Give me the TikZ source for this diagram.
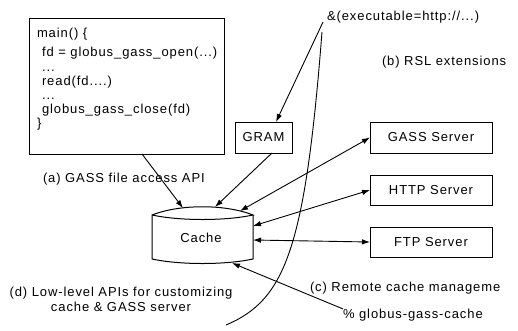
\documentclass[tikz,border=0pt]{standalone}
\usepackage{fontspec}
\setmainfont{Liberation Sans}[LetterSpace=7]
\usetikzlibrary{arrows.meta}
\begin{document}
\begin{tikzpicture}[x=1pt,y=-1pt,
  every node/.style={font=\fontsize{13pt}{15pt}\selectfont, inner sep=0pt, outer sep=0pt},
  box/.style={draw, line width=1pt},
  conn/.style={line width=0.9pt},
  arrowhd/.tip={Latex[length=8pt,width=5.5pt]}]
\useasboundingbox (0,0) rectangle (518,330);
\fill[white] (0,0) rectangle (518,330);

% code box
\node[box, anchor=north west, minimum width=195pt, minimum height=136pt] (code) at (29,18) {};
\node[anchor=base west] (l1) at (37,37) {main() \{};
\node[anchor=base west] (l2) at (42,56) {fd = globus\_gass\_open(...)};
\node[anchor=base west] (l3) at (42,71) {...};
\node[anchor=base west] (l4) at (42,85) {read(fd....)};
\node[anchor=base west] (l5) at (42,99) {...};
\node[anchor=base west] (l6) at (42,113) {globus\_gass\_close(fd)};
\node[anchor=base west] (l7) at (37,127) {\}};

% boxes
\node[box, minimum width=57pt, minimum height=31pt] (gram) at (263.5,137.5) {GRAM};
\node[box, minimum width=122pt, minimum height=31pt] (gass) at (431,137.5) {GASS Server};
\node[box, minimum width=122pt, minimum height=30pt] (http) at (431,190) {HTTP Server};
\node[box, minimum width=122pt, minimum height=30pt] (ftp) at (431,242) {FTP Server};

% texts
\node[anchor=west] (exec) at (327,17) {\&(executable=http://...)};
\node[anchor=west] (rsl) at (382,62) {(b) RSL extensions};
\node[anchor=west] (capi) at (43,179) {(a) GASS file access API};
\node[align=center] (lowapi) at (121,299.5) {(d) Low-level APIs for customizing\\cache \& GASS server};
\node[anchor=west] (remote) at (310,288) {(c) Remote cache manageme};
\node[anchor=west] (gcache) at (343,315) {\% globus-gass-cache};

% cache
\coordinate (cTL) at (152,215);
\coordinate (cTR) at (253,215);
\coordinate (cBL) at (152,259);
\coordinate (cBR) at (253,259);
\draw[box] (cTL) .. controls (180,204) and (225,204) .. (cTR)
  .. controls (225,221) and (180,221) .. (cTL) -- (cBL)
  .. controls (180,265) and (225,265) .. (cBR) -- (cTR);
\node (cache) at (201,238) {Cache};
\coordinate (cinA) at (183,208);
\coordinate (cinB) at (215,207);
\coordinate (cinC) at (240,211);
\coordinate (cinD) at (253,226);
\coordinate (cinE) at (253,240);
\coordinate (cinF) at (232,263);

% connectors
\coordinate (execout) at (323,22);
\coordinate (curveTop) at (322,32);
\coordinate (curveEnd) at (226,325);
\draw[conn,-arrowhd] ([xshift=15.5pt]code.south) -- (cinA);
\draw[conn,-arrowhd] ([xshift=8.5pt]gram.south) -- (cinB);
\draw[conn,-arrowhd] (execout) -- ([xshift=12.5pt]gram.north);
\draw[conn,arrowhd-arrowhd] (cinC) -- (gass.west);
\draw[conn,arrowhd-arrowhd] (cinD) -- (http.west);
\draw[conn,arrowhd-arrowhd] (cinE) -- (ftp.west);
\draw[conn,-arrowhd] (gcache.north west) -- (cinF);
\draw[conn] (curveTop) .. controls (305,250) and (285,300) .. (curveEnd);
\end{tikzpicture}
\end{document}
